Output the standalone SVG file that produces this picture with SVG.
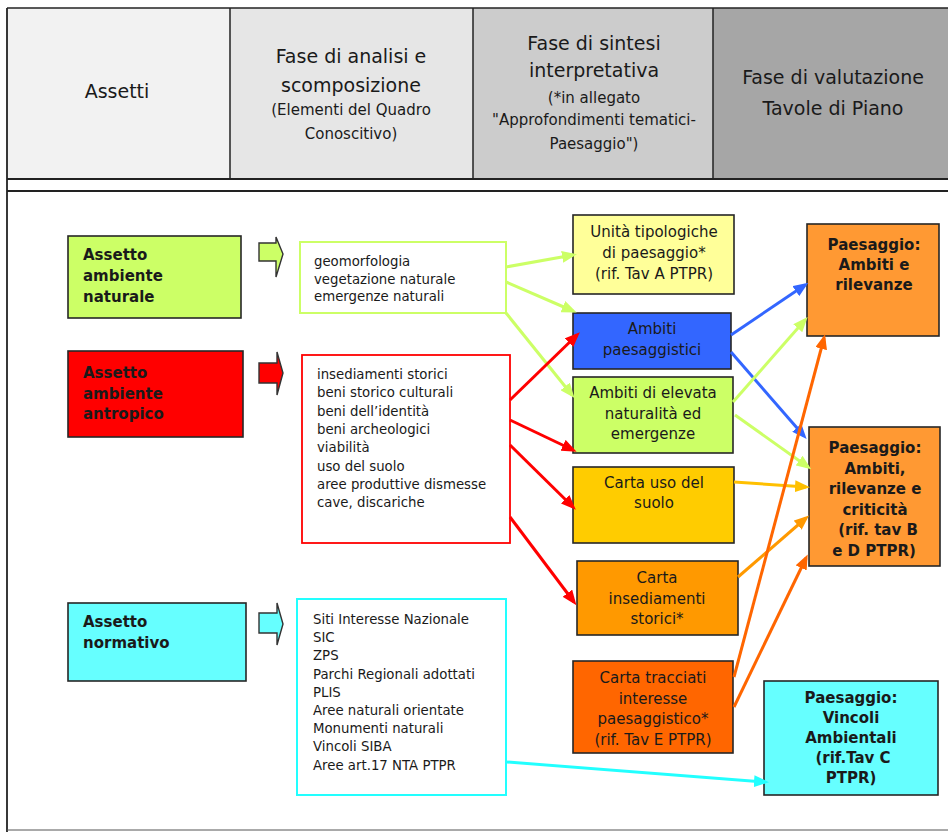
<svg xmlns="http://www.w3.org/2000/svg" width="948" height="832" viewBox="0 0 948 832">
<style>
text{font-family:"DejaVu Sans","Liberation Sans",sans-serif;fill:#1a1a1a}
.h{font-size:19px;text-anchor:middle}
.hs{font-size:15px;text-anchor:middle}
.lb{font-size:15px;font-weight:bold}
.rb{font-size:15px;font-weight:bold;text-anchor:middle}
.m{font-size:15px;text-anchor:middle}
.li{font-size:13.3px}
.box{stroke:#262626;stroke-width:1.6}
.blk{stroke:#333;stroke-width:1.4}
.frame{stroke:#222;fill:none}
.c{fill:none;stroke-width:3}
</style>
<defs>
<marker id="aG" markerUnits="userSpaceOnUse" markerWidth="15" markerHeight="12" refX="11" refY="6" orient="auto"><path d="M0,0 L15,6 L0,12 Z" fill="#ccff66"/></marker>
<marker id="aB" markerUnits="userSpaceOnUse" markerWidth="15" markerHeight="12" refX="11" refY="6" orient="auto"><path d="M0,0 L15,6 L0,12 Z" fill="#3366ff"/></marker>
<marker id="aR" markerUnits="userSpaceOnUse" markerWidth="15" markerHeight="12" refX="11" refY="6" orient="auto"><path d="M0,0 L15,6 L0,12 Z" fill="#ff0000"/></marker>
<marker id="aY" markerUnits="userSpaceOnUse" markerWidth="15" markerHeight="12" refX="11" refY="6" orient="auto"><path d="M0,0 L15,6 L0,12 Z" fill="#ffc000"/></marker>
<marker id="aO" markerUnits="userSpaceOnUse" markerWidth="15" markerHeight="12" refX="11" refY="6" orient="auto"><path d="M0,0 L15,6 L0,12 Z" fill="#ff9900"/></marker>
<marker id="aOR" markerUnits="userSpaceOnUse" markerWidth="15" markerHeight="12" refX="11" refY="6" orient="auto"><path d="M0,0 L15,6 L0,12 Z" fill="#ff6600"/></marker>
<marker id="aC" markerUnits="userSpaceOnUse" markerWidth="15" markerHeight="12" refX="11" refY="6" orient="auto"><path d="M0,0 L15,6 L0,12 Z" fill="#22ffff"/></marker>
</defs>
<rect x="0" y="0" width="948" height="832" fill="#ffffff"/>

<g id="header">
<rect x="7" y="8" width="223" height="171" fill="#f2f2f2"/>
<rect x="230" y="8" width="243" height="171" fill="#e6e6e6"/>
<rect x="473" y="8" width="240" height="171" fill="#cccccc"/>
<rect x="713" y="8" width="235" height="171" fill="#a6a6a6"/>
<line class="frame" x1="7" y1="8" x2="948" y2="8" stroke-width="1.5"/>
<line class="frame" x1="230" y1="8" x2="230" y2="179" stroke-width="1.5"/>
<line class="frame" x1="473" y1="8" x2="473" y2="179" stroke-width="1.5"/>
<line class="frame" x1="713" y1="8" x2="713" y2="179" stroke-width="1.5"/>
<line class="frame" x1="7" y1="179" x2="948" y2="179" stroke-width="2.2"/>
<line class="frame" x1="7" y1="191" x2="948" y2="191" stroke-width="2.2"/>
<line class="frame" x1="7" y1="8" x2="7" y2="832" stroke-width="1.8"/>
<line x1="7" y1="830" x2="948" y2="830" stroke="#555" stroke-width="1"/>
<text class="h" x="117" y="98">Assetti</text>
<text class="h" x="351" y="63">Fase di analisi e</text>
<text class="h" x="351" y="92">scomposizione</text>
<text class="hs" x="351" y="115">(Elementi del Quadro</text>
<text class="hs" x="351" y="139">Conoscitivo)</text>
<text class="h" x="594" y="50">Fase di sintesi</text>
<text class="h" x="594" y="77">interpretativa</text>
<text class="hs" x="594" y="103">(*in allegato</text>
<text class="hs" x="594" y="125">"Approfondimenti tematici-</text>
<text class="hs" x="594" y="149">Paesaggio")</text>
<text class="h" x="833" y="84">Fase di valutazione</text>
<text class="h" x="833" y="115">Tavole di Piano</text>
</g>

<g id="assetto-naturale">
<rect class="box" x="68" y="236" width="173" height="82" fill="#ccff66"/>
<text class="lb" x="83" y="260">Assetto<tspan x="83" dy="21">ambiente</tspan><tspan x="83" dy="21">naturale</tspan></text>
</g>
<g id="assetto-antropico">
<rect class="box" x="68" y="351" width="175" height="86" fill="#ff0000"/>
<text class="lb" x="83" y="378">Assetto<tspan x="83" dy="20.5">ambiente</tspan><tspan x="83" dy="20.5">antropico</tspan></text>
</g>
<g id="assetto-normativo">
<rect class="box" x="68" y="603" width="178" height="78" fill="#66ffff"/>
<text class="lb" x="83" y="627">Assetto<tspan x="83" dy="20.5">normativo</tspan></text>
</g>

<g id="freccia-naturale">
<path class="blk" d="M259,243 H276 V237 L283,254 L276,277 V261 H259 Z" fill="#ccff66"/>
</g>
<g id="freccia-antropico">
<path class="blk" d="M259,363 H277 V352 L283,373 L277,395 V383 H259 Z" fill="#ff0000"/>
</g>
<g id="freccia-normativo">
<path class="blk" d="M259,613 H277 V603 L283,624 L277,645 V633 H259 Z" fill="#66ffff"/>
</g>

<g id="elementi-naturali">
<rect x="300" y="242" width="206" height="71" fill="#ffffff" stroke="#ccff66" stroke-width="2"/>
<text class="li" x="314" y="266">geomorfologia<tspan x="314" dy="17.5">vegetazione naturale</tspan><tspan x="314" dy="17.5">emergenze naturali</tspan></text>
</g>
<g id="elementi-antropici">
<rect x="302" y="355" width="208" height="188" fill="#ffffff" stroke="#ff0000" stroke-width="1.8"/>
<text class="li" x="317" y="379">insediamenti storici<tspan x="317" dy="18.3">beni storico culturali</tspan><tspan x="317" dy="18.3">beni dell’identità</tspan><tspan x="317" dy="18.3">beni archeologici</tspan><tspan x="317" dy="18.3">viabilità</tspan><tspan x="317" dy="18.3">uso del suolo</tspan><tspan x="317" dy="18.3">aree produttive dismesse</tspan><tspan x="317" dy="18.3">cave, discariche</tspan></text>
</g>
<g id="elementi-normativi">
<rect x="297" y="599" width="209" height="196" fill="#ffffff" stroke="#22ffff" stroke-width="2"/>
<text class="li" x="313" y="624">Siti Interesse Nazionale<tspan x="313" dy="18.2">SIC</tspan><tspan x="313" dy="18.2">ZPS</tspan><tspan x="313" dy="18.2">Parchi Regionali adottati</tspan><tspan x="313" dy="18.2">PLIS</tspan><tspan x="313" dy="18.2">Aree naturali orientate</tspan><tspan x="313" dy="18.2">Monumenti naturali</tspan><tspan x="313" dy="18.2">Vincoli SIBA</tspan><tspan x="313" dy="18.2">Aree art.17 NTA PTPR</tspan></text>
</g>

<g id="unita-tipologiche">
<rect class="box" x="573" y="215" width="161" height="79" fill="#ffff99"/>
<text class="m" x="654" y="237">Unità tipologiche<tspan x="654" dy="21">di paesaggio*</tspan><tspan x="654" dy="21">(rif. Tav A PTPR)</tspan></text>
</g>
<g id="ambiti-paesaggistici">
<rect class="box" x="573" y="313" width="158" height="56" fill="#3366ff"/>
<text class="m" x="652" y="334">Ambiti<tspan x="652" dy="21">paesaggistici</tspan></text>
</g>
<g id="ambiti-elevata-naturalita">
<rect class="box" x="573" y="377" width="160" height="76" fill="#ccff66"/>
<text class="m" x="653" y="398">Ambiti di elevata<tspan x="653" dy="20.5">naturalità ed</tspan><tspan x="653" dy="20.5">emergenze</tspan></text>
</g>
<g id="carta-uso-suolo">
<rect class="box" x="573" y="467" width="161" height="76" fill="#ffcc00"/>
<text class="m" x="654" y="488">Carta uso del<tspan x="654" dy="20">suolo</tspan></text>
</g>
<g id="carta-insediamenti">
<rect class="box" x="577" y="561" width="161" height="74" fill="#ff9900"/>
<text class="m" x="657" y="583">Carta<tspan x="657" dy="20.5">insediamenti</tspan><tspan x="657" dy="20.5">storici*</tspan></text>
</g>
<g id="carta-tracciati">
<rect class="box" x="573" y="661" width="160" height="92" fill="#ff6600"/>
<text class="m" x="653" y="683">Carta tracciati<tspan x="653" dy="20.7">interesse</tspan><tspan x="653" dy="20.7">paesaggistico*</tspan><tspan x="653" dy="20.7">(rif. Tav E PTPR)</tspan></text>
</g>

<g id="paesaggio-ambiti-rilevanze">
<rect class="box" x="807" y="224" width="132" height="112" fill="#ff9933"/>
<text class="rb" x="874" y="250">Paesaggio:<tspan x="874" dy="20">Ambiti e</tspan><tspan x="874" dy="20">rilevanze</tspan></text>
</g>
<g id="paesaggio-criticita">
<rect class="box" x="809" y="427" width="131" height="139" fill="#ff9933"/>
<text class="rb" x="875" y="453">Paesaggio:<tspan x="875" dy="20.5">Ambiti,</tspan><tspan x="875" dy="20.5">rilevanze e</tspan><tspan x="875" dy="20.5">criticità</tspan><tspan x="878" dy="20.5">(rif. tav B</tspan><tspan x="874" dy="20.5">e D PTPR)</tspan></text>
</g>
<g id="paesaggio-vincoli">
<rect class="box" x="764" y="681" width="174" height="114" fill="#66ffff"/>
<text class="rb" x="851" y="703">Paesaggio:<tspan x="851" dy="20">Vincoli</tspan><tspan x="851" dy="20">Ambientali</tspan><tspan x="853" dy="20">(rif.Tav C</tspan><tspan x="851" dy="20">PTPR)</tspan></text>
</g>

<g id="connectors">
<line class="c" stroke="#ccff66" x1="506" y1="267" x2="573" y2="255" marker-end="url(#aG)"/>
<line class="c" stroke="#ccff66" x1="506" y1="282" x2="573" y2="311" marker-end="url(#aG)"/>
<line class="c" stroke="#ccff66" x1="506" y1="313" x2="572" y2="395" marker-end="url(#aG)"/>
<line class="c" stroke="#ff0000" stroke-width="2.6" x1="510" y1="400" x2="577" y2="335" marker-end="url(#aR)"/>
<line class="c" stroke="#ff0000" stroke-width="2.6" x1="510" y1="420" x2="573" y2="450" marker-end="url(#aR)"/>
<line class="c" stroke="#ff0000" stroke-width="2.6" x1="510" y1="445" x2="573" y2="507" marker-end="url(#aR)"/>
<line class="c" stroke="#ff0000" stroke-width="2.6" x1="510" y1="517" x2="574" y2="602" marker-end="url(#aR)"/>
<line class="c" stroke="#3366ff" x1="731" y1="335" x2="805" y2="285" marker-end="url(#aB)"/>
<line class="c" stroke="#3366ff" x1="731" y1="352" x2="804" y2="436" marker-end="url(#aB)"/>
<line class="c" stroke="#ccff66" x1="733" y1="402" x2="805" y2="320" marker-end="url(#aG)"/>
<line class="c" stroke="#ccff66" x1="735" y1="415" x2="808" y2="467" marker-end="url(#aG)"/>
<line class="c" stroke="#ffc000" x1="734" y1="482" x2="806" y2="487" marker-end="url(#aY)"/>
<line class="c" stroke="#ff9900" x1="738" y1="577" x2="806" y2="518" marker-end="url(#aO)"/>
<line class="c" stroke="#ff6600" x1="734" y1="677" x2="824" y2="338" marker-end="url(#aOR)"/>
<line class="c" stroke="#ff6600" x1="734" y1="707" x2="806" y2="558" marker-end="url(#aOR)"/>
<line class="c" stroke="#22ffff" stroke-width="2.6" x1="507" y1="762" x2="765" y2="782" marker-end="url(#aC)"/>
</g>
</svg>
